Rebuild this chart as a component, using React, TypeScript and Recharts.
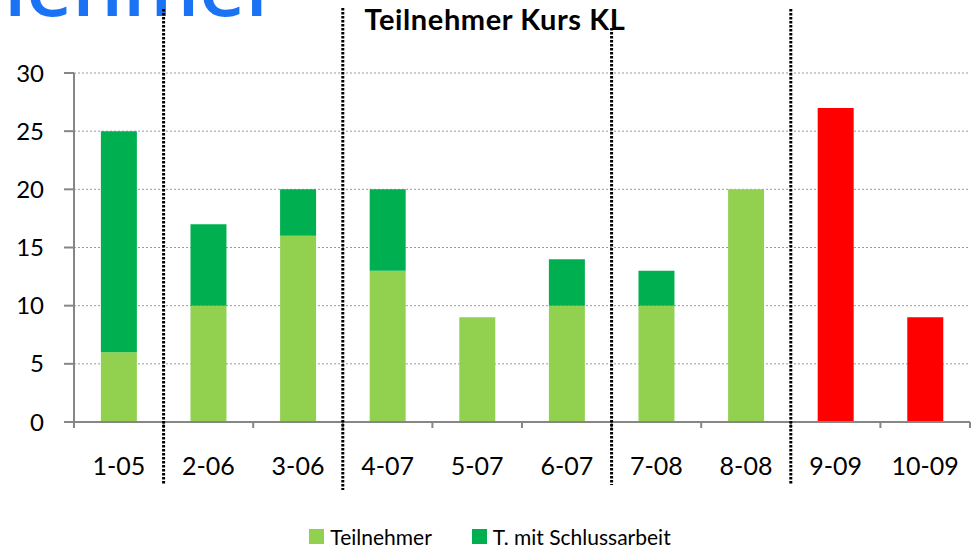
import {
  BarChart,
  Bar,
  XAxis,
  YAxis,
  CartesianGrid,
  Legend,
  Cell,
} from "recharts";

const categories = ["1-05", "2-06", "3-06", "4-07", "5-07", "6-07", "7-08", "8-08", "9-09", "10-09"];
const teilnehmer = [6, 10, 16, 13, 9, 10, 10, 20, 27, 9];
const mitSchlussarbeit = [19, 7, 4, 7, 0, 4, 3, 0, 0, 0];
const redCourses = ["9-09", "10-09"];
const yTicks = [0, 5, 10, 15, 20, 25, 30];
// dotted separators on the left edge of these categories
const separatorBefore = ["2-06", "4-07", "7-08", "9-09"];
const separatorReach = [
  { up: 64, down: 63 },
  { up: 65, down: 68 },
  { up: 45, down: 63 },
  { up: 64, down: 63 },
];

const LIGHT = "#92d050";
const DARK = "#00b050";
const RED = "#ff0000";
const AXIS = "#868686";
const FONT = "Lato, 'Open Sans', sans-serif";
const PLOT_H = 349;

const data = categories.map((name, i) => ({
  name,
  teilnehmer: teilnehmer[i],
  schluss: mitSchlussarbeit[i],
}));

const CategoryTick = (props: any) => {
  const { x, y, payload, index } = props;
  const half = payload.offset || 44.8;
  const left = x - half;
  const sep = separatorBefore.indexOf(payload.value);
  return (
    <g>
      <line x1={left} x2={left} y1={y} y2={y + 6} stroke={AXIS} strokeWidth={2} />
      {index === categories.length - 1 && (
        <line x1={x + half} x2={x + half} y1={y} y2={y + 6} stroke={AXIS} strokeWidth={2} />
      )}
      {sep >= 0 && (
        <line
          x1={left}
          x2={left}
          y1={y - PLOT_H - separatorReach[sep].up}
          y2={y + separatorReach[sep].down}
          stroke="#000"
          strokeWidth={3}
          strokeDasharray="2.5 1.5"
        />
      )}
      <text x={x} y={y + 53} textAnchor="middle" fill="#000" fontSize={25} fontFamily={FONT}>
        {payload.value}
      </text>
    </g>
  );
};

const LegendContent = () => (
  <div
    style={{
      height: 30,
      display: "flex",
      justifyContent: "center",
      alignItems: "center",
      paddingLeft: 10,
      fontFamily: FONT,
      fontSize: 21,
      color: "#000",
    }}
  >
    {[
      { label: "Teilnehmer", color: LIGHT },
      { label: "T. mit Schlussarbeit", color: DARK },
    ].map((item, i) => (
      <span key={item.label} style={{ display: "flex", alignItems: "center", marginLeft: i ? 40 : 0 }}>
        <span style={{ width: 15, height: 15, background: item.color, marginRight: 6 }} />
        {item.label}
      </span>
    ))}
  </div>
);

export default function App() {
  return (
    <div style={{ position: "absolute", left: 0, top: 0, width: 977, height: 556, overflow: "hidden", background: "#fff" }}>
      <div
        style={{
          position: "absolute",
          right: 977 - 280,
          top: -55,
          fontFamily: "'Open Sans', sans-serif",
          fontWeight: 600,
          fontSize: 80,
          lineHeight: "80px",
          color: "#1a73f5",
          whiteSpace: "nowrap",
        }}
      >
        Teilnehmer
      </div>
      <BarChart
        width={977}
        height={556}
        data={data}
        margin={{ top: 73, right: 7, left: 0, bottom: 5 }}
        barCategoryGap="30%"
      >
        <CartesianGrid vertical={false} stroke="#9a9a9a" strokeDasharray="2 2" />
        <XAxis
          dataKey="name"
          stroke={AXIS}
          strokeWidth={2}
          tickLine={false}
          height={99}
          tickSize={0}
          tickMargin={0}
          interval={0}
          tick={<CategoryTick />}
        />
        <YAxis
          domain={[0, 30]}
          ticks={yTicks}
          width={74}
          stroke={AXIS}
          strokeWidth={2}
          tickSize={10}
          tickMargin={20}
          tick={{ fill: "#000", fontSize: 24, fontFamily: FONT }}
        />
        <Legend verticalAlign="bottom" content={<LegendContent />} />
        <Bar dataKey="teilnehmer" name="Teilnehmer" stackId="a" fill={LIGHT} isAnimationActive={false}>
          {data.map((d) => (
            <Cell key={d.name} fill={redCourses.includes(d.name) ? RED : LIGHT} />
          ))}
        </Bar>
        <Bar dataKey="schluss" name="T. mit Schlussarbeit" stackId="a" fill={DARK} isAnimationActive={false} />
      </BarChart>
      <div
        style={{
          position: "absolute",
          left: 0,
          width: 990,
          top: 1,
          textAlign: "center",
          fontFamily: FONT,
          fontWeight: 700,
          fontSize: 29,
          letterSpacing: 0.6,
          color: "#000",
        }}
      >
        Teilnehmer Kurs KL
      </div>
    </div>
  );
}
